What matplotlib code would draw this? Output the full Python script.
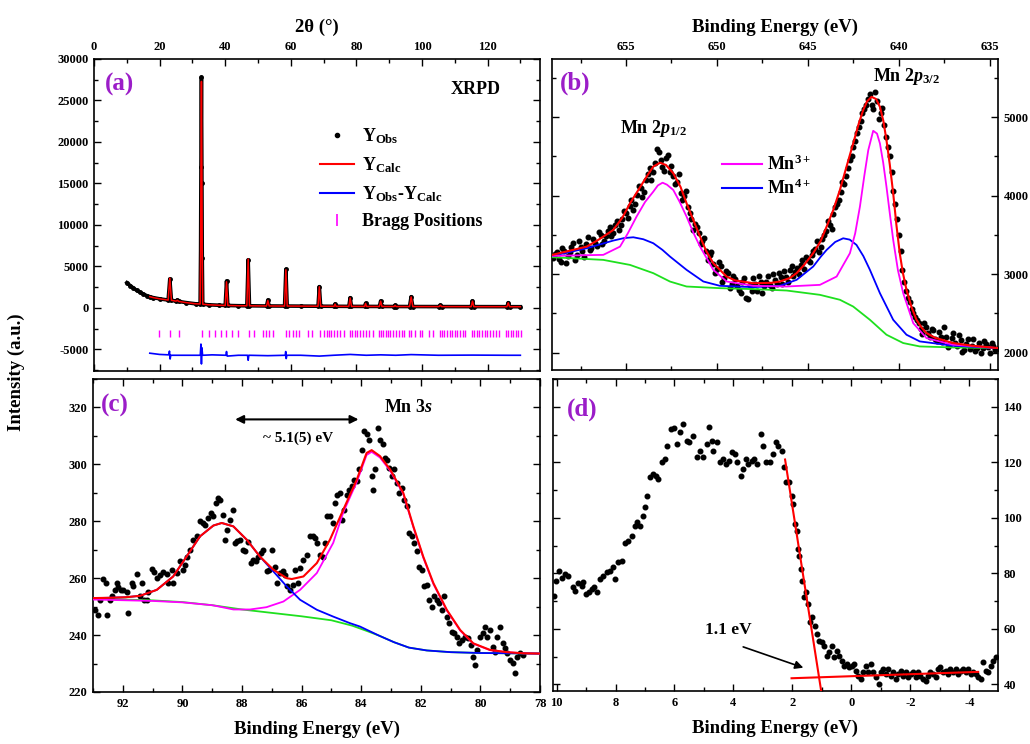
import matplotlib
matplotlib.use("Agg")
import matplotlib.pyplot as plt
from matplotlib.lines import Line2D
from matplotlib.ticker import MultipleLocator

plt.rcParams["font.family"] = ["Liberation Serif", "DejaVu Serif"]
plt.rcParams["font.weight"] = "bold"
plt.rcParams["axes.labelweight"] = "bold"
plt.rcParams["axes.unicode_minus"] = False
plt.rcParams["mathtext.fontset"] = "custom"
plt.rcParams["mathtext.rm"] = "Liberation Serif:bold"
plt.rcParams["mathtext.bf"] = "Liberation Serif:bold"
plt.rcParams["mathtext.it"] = "Liberation Serif:bold:italic"
plt.rcParams["axes.linewidth"] = 1.2

# -----------------------------------------
# (a) XRPD refinement
# -----------------------------------------
two_theta_obs = [10, 11, 12, 13, 14, 15, 16, 17, 18, 20, 22.6, 23.1, 23.6, 25.0, 25.4, 25.8,
                 28, 31, 32.35, 32.5, 32.6, 32.75, 32.9, 33.0, 33.15, 35, 38, 40.0, 40.4, 40.8,
                 44, 46.6, 47.0, 47.4, 52.6, 53.0, 53.4, 58.1, 58.5, 58.9, 63, 68.3, 68.7, 69.1,
                 73.2, 73.5, 73.8, 77.7, 78.1, 78.5, 82.5, 82.8, 83.1, 87.0, 87.4, 87.8, 91.5,
                 91.8, 92.1, 96.2, 96.7, 97.2, 105.2, 105.6, 106.0, 115.0, 115.4, 115.8, 125.9,
                 126.3, 126.7, 130]
counts_obs = [3050, 2700, 2400, 2120, 1900, 1680, 1500, 1360, 1250, 1100, 950, 3500, 930, 820, 950,
              790, 650, 500, 480, 7000, 17000, 27800, 15000, 6000, 450, 380, 330, 300, 3250, 300,
              270, 260, 5800, 260, 240, 950, 240, 230, 4650, 230, 220, 210, 2570, 210, 200, 480,
              200, 190, 1240, 190, 185, 560, 185, 180, 840, 180, 175, 320, 175, 170, 1360, 170,
              165, 330, 165, 160, 840, 160, 155, 640, 155, 150]

two_theta_calc = [17, 18, 20, 22.6, 23.1, 23.6, 25.0, 25.4, 25.8, 28, 31, 32.35, 32.5, 32.6, 32.75,
                  32.9, 33.0, 33.15, 35, 38, 40.0, 40.4, 40.8, 44, 46.6, 47.0, 47.4, 52.6, 53.0,
                  53.4, 58.1, 58.5, 58.9, 63, 68.3, 68.7, 69.1, 73.2, 73.5, 73.8, 77.7, 78.1, 78.5,
                  82.5, 82.8, 83.1, 87.0, 87.4, 87.8, 91.5, 91.8, 92.1, 96.2, 96.7, 97.2, 105.2,
                  105.6, 106.0, 115.0, 115.4, 115.8, 125.9, 126.3, 126.7, 130]
counts_calc = [1360, 1250, 1100, 950, 3600, 930, 820, 930, 790, 650, 500, 480, 7000, 17000, 27300,
               15000, 6000, 450, 380, 330, 300, 3150, 300, 270, 260, 5900, 260, 240, 900, 240, 230,
               4600, 230, 220, 210, 2550, 210, 200, 460, 200, 190, 1200, 190, 185, 540, 185, 180,
               820, 180, 175, 310, 175, 170, 1330, 170, 165, 320, 165, 160, 820, 160, 155, 620,
               155, 150]

two_theta_diff = [17, 20, 22.8, 23.0, 23.2, 23.4, 28, 32.4, 32.6, 32.75, 32.9, 33.1, 36, 40.2,
                  40.4, 40.6, 44, 46.8, 47.0, 47.2, 53.0, 58.3, 58.45, 58.6, 58.8, 63, 68.7, 73,
                  78.1, 83, 87.4, 92, 96.7, 105, 115.4, 126.3, 130]
diff_vals = [-5450, -5600, -5650, -5200, -6150, -5700, -5700, -5700, -4350, -6750, -4800, -5700,
             -5650, -5700, -5250, -5800, -5700, -5700, -6300, -5700, -5750, -5700, -5250, -6100,
             -5700, -5700, -5800, -5700, -5600, -5700, -5650, -5700, -5620, -5700, -5680, -5700,
             -5700]

bragg_pos = [19.9, 23.1, 26.0, 32.8, 35.0, 36.9, 38.6, 40.3, 42.1, 43.9, 47.2, 48.7, 51.4, 52.4,
             53.4, 54.5, 58.6, 59.6, 60.6, 61.5, 62.5, 65.2, 66.4, 69.0, 70.2, 70.9, 71.6, 72.4,
             73.2, 74.0, 74.9, 76.1, 78.1, 78.8, 79.5, 80.3, 81.0, 81.9, 82.8, 83.8, 85.2, 86.9,
             87.6, 88.2, 88.9, 89.6, 90.4, 91.2, 92.0, 92.9, 93.8, 94.6, 96.0, 96.7, 98.0, 99.3,
             100.0, 102.0, 103.3, 105.4, 106.1, 106.8, 107.6, 108.4, 109.2, 110.0, 110.8, 111.6,
             112.4, 113.1, 115.2, 116.0, 116.7, 117.5, 118.3, 119.1, 119.9, 120.7, 121.7, 122.5,
             123.5, 125.5, 126.3, 127.0, 127.8, 128.6, 129.4, 130.1]

# -----------------------------------------
# (b) Mn 2p XPS
# -----------------------------------------
b_obs_be = [659.0, 658.8, 658.6, 658.4, 658.2, 658.0, 657.8, 657.6, 657.4, 657.2, 657.0, 656.8,
            656.6, 656.4, 656.2, 656.0, 655.8, 655.6, 655.4, 655.2, 655.0, 654.8, 654.6, 654.4,
            654.2, 654.0, 653.8, 653.6, 653.4, 653.2, 653.0, 652.8, 652.6, 652.4, 652.2, 652.0,
            651.8, 651.6, 651.4, 651.2, 651.0, 650.8, 650.6, 650.4, 650.2, 650.0, 649.8, 649.6,
            649.4, 649.2, 649.0, 648.8, 648.6, 648.4, 648.2, 648.0, 647.8, 647.6, 647.4, 647.2,
            647.0, 646.8, 646.6, 646.4, 646.2, 646.0, 645.8, 645.6, 645.4, 645.2, 645.0, 644.8,
            644.6, 644.4, 644.2, 644.0, 643.8, 643.6, 643.4, 643.2, 643.0, 642.8, 642.6, 642.4,
            642.2, 642.0, 641.8, 641.6, 641.4, 641.2, 641.0, 640.8, 640.6, 640.4, 640.2, 640.0,
            639.8, 639.6, 639.4, 639.2, 639.0, 638.8, 638.6, 638.4, 638.2, 638.0, 637.8, 637.6,
            637.4, 637.2, 637.0, 636.8, 636.6, 636.4, 636.2, 636.0, 635.8, 635.6, 635.4, 635.2,
            635.0, 634.8, 634.6]
b_obs = [3210, 3280, 3150, 3300, 3230, 3350, 3180, 3420, 3290, 3380, 3310, 3450, 3360, 3500,
         3420, 3550, 3480, 3620, 3560, 3700, 3780, 3870, 3820, 4010, 4100, 4050, 4280, 4200, 4420,
         4560, 4370, 4480, 4300, 4250, 4180, 4030, 3990, 3850, 3700, 3640, 3520, 3420, 3300, 3250,
         3130, 3060, 3100, 2950, 3010, 2880, 2940, 2800, 2900, 2700, 2860, 2950, 2780, 2900, 2850,
         2980, 2820, 2930, 3020, 2880, 2960, 3050, 2980, 3080, 3120, 3060, 3180, 3250, 3320, 3280,
         3450, 3550, 3620, 3760, 3900, 4050, 4150, 4350, 4500, 4700, 4880, 5050, 5150, 5300, 5100,
         5200, 5050, 4900, 4620, 4300, 3900, 3500, 3050, 2780, 2650, 2500, 2420, 2300, 2380, 2250,
         2300, 2180, 2260, 2140, 2200, 2110, 2250, 2090, 2160, 2040, 2180, 2080, 2020, 2130, 2060,
         2110, 2000, 2080, 2050]
b_obs_be2 = [658.9, 658.7, 658.5, 658.3, 658.1, 657.9, 657.7, 657.5, 657.3, 657.1, 656.9, 656.7,
             656.5, 656.3, 656.1, 655.9, 655.7, 655.5, 655.3, 655.1, 654.9, 654.7, 654.5, 654.3,
             654.1, 653.9, 653.7, 653.5, 653.3, 653.1, 652.9, 652.7, 652.5, 652.3, 652.1, 651.9,
             651.7, 651.5, 651.3, 651.1, 650.9, 650.7, 650.5, 650.3, 650.1, 649.9, 649.7, 649.5,
             649.3, 649.1, 648.9, 648.7, 648.5, 648.3, 648.1, 647.9, 647.7, 647.5, 647.3, 647.1,
             646.9, 646.7, 646.5, 646.3, 646.1, 645.9, 645.7, 645.5, 645.3, 645.1, 644.9, 644.7,
             644.5, 644.3, 644.1, 643.9, 643.7, 643.5, 643.3, 643.1, 642.9, 642.7, 642.5, 642.3,
             642.1, 641.9, 641.7, 641.5, 641.3, 641.1, 640.9, 640.7, 640.5, 640.3, 640.1, 639.9,
             639.7, 639.5, 639.3, 639.1, 638.9, 638.7, 638.5, 638.3, 638.1, 637.9, 637.7, 637.5,
             637.3, 637.1, 636.9, 636.7, 636.5, 636.3, 636.1, 635.9, 635.7, 635.5, 635.3, 635.1,
             634.9, 634.7]
b_obs2 = [3260, 3190, 3330, 3140, 3280, 3400, 3250, 3350, 3220, 3470, 3330, 3400, 3540, 3380,
          3480, 3600, 3520, 3680, 3620, 3800, 3720, 3950, 3900, 4120, 3980, 4200, 4350, 4300, 4600,
          4450, 4320, 4520, 4380, 4150, 4280, 3950, 4060, 3780, 3560, 3600, 3380, 3460, 3180, 3280,
          3010, 3150, 2900, 3040, 2820, 2980, 2850, 2760, 2950, 2680, 2790, 2880, 2980, 2760, 2900,
          2860, 3000, 2870, 2960, 3040, 2900, 3100, 3030, 3000, 3180, 3220, 3150, 3300, 3420, 3350,
          3500, 3680, 3580, 3850, 3950, 4180, 4250, 4450, 4620, 4800, 4950, 5100, 5230, 5150, 5320,
          4980, 5120, 4750, 4500, 4060, 3700, 3300, 2900, 2700, 2560, 2450, 2380, 2240, 2330, 2200,
          2290, 2150, 2200, 2330, 2070, 2190, 2120, 2230, 2010, 2110, 2050, 2170, 2060, 1990, 2150,
          2070, 2120, 2030]

b_fit_be = [659.05, 657.16, 656.5, 655.7, 655.2, 654.78, 654.3, 653.87, 653.5, 653.13, 652.8,
            652.4, 652.0, 651.67, 651.3, 650.93, 650.6, 650.2, 649.47, 649.0, 648.0, 647.0, 646.54,
            646.0, 645.62, 645.2, 644.71, 644.3, 643.97, 643.6, 643.24, 642.9, 642.51, 642.2,
            641.96, 641.75, 641.5, 641.25, 641.04, 640.85, 640.68, 640.5, 640.31, 640.13, 639.95,
            639.78, 639.58, 639.3, 639.03, 638.75, 638.48, 638.0, 637.02, 636.0, 634.54]
b_fit = [3246, 3351, 3440, 3563, 3720, 3902, 4080, 4241, 4370, 4419, 4390, 4284, 4110, 3902, 3690,
         3479, 3300, 3140, 2970, 2920, 2885, 2890, 2907, 2950, 3013, 3120, 3267, 3420, 3606, 3820,
         4072, 4350, 4665, 4920, 5089, 5200, 5258, 5230, 5131, 4950, 4707, 4400, 4029, 3620, 3267,
         3020, 2801, 2580, 2419, 2320, 2250, 2190, 2123, 2090, 2059]

b_mn3_be = [659.05, 656.25, 655.33, 654.9, 654.42, 653.95, 653.5, 653.25, 652.99, 652.75, 652.4,
            652.05, 651.67, 651.3, 650.93, 650.2, 649.47, 648.0, 646.17, 644.34, 643.42, 642.69,
            642.4, 642.14, 641.9, 641.68, 641.41, 641.2, 641.04, 640.86, 640.68, 640.5, 640.31,
            640.05, 639.76, 639.21, 638.48, 637.02, 634.54]
b_mn3 = [3233, 3246, 3351, 3520, 3733, 3920, 4051, 4130, 4165, 4140, 4072, 3920, 3733, 3530, 3351,
         3055, 2907, 2852, 2843, 2864, 2970, 3267, 3520, 3860, 4250, 4580, 4826, 4790, 4665, 4420,
         4114, 3780, 3436, 3050, 2758, 2377, 2186, 2102, 2059]

b_mn4_be = [659.05, 657.16, 655.70, 655.1, 654.6, 654.05, 653.5, 653.0, 652.58, 651.67, 650.75,
            649.84, 648.0, 646.54, 645.62, 644.71, 644.3, 643.97, 643.5, 643.06, 642.7, 642.33,
            641.95, 641.59, 641.04, 640.31, 639.58, 638.85, 637.02, 634.54]
b_mn4 = [3233, 3330, 3428, 3460, 3470, 3445, 3394, 3310, 3224, 3055, 2907, 2852, 2835, 2852, 2928,
         3097, 3220, 3309, 3410, 3457, 3440, 3373, 3230, 3055, 2758, 2419, 2229, 2144, 2089, 2059]

b_bg_be = [659.05, 656.25, 654.78, 653.5, 652.58, 651.67, 649.84, 648.0, 646.17, 644.34, 643.24,
           642.51, 641.59, 640.68, 639.76, 638.85, 637.02, 634.55]
b_bg = [3216, 3182, 3118, 3013, 2906, 2843, 2822, 2810, 2792, 2737, 2674, 2588, 2419, 2229, 2123,
        2080, 2067, 2060]

# -----------------------------------------
# (c) Mn 3s XPS
# -----------------------------------------
c_obs_be = [92.93, 92.82, 92.76, 92.65, 92.56, 92.52, 92.43, 92.37, 92.26, 92.21, 92.15, 92.07,
            91.98, 91.87, 91.82, 91.70, 91.65, 91.54, 91.42, 91.37, 91.29, 91.20, 91.14, 91.03,
            90.95, 90.86, 90.75, 90.64, 90.53, 90.47, 90.36, 90.30, 90.19, 90.08, 89.99, 89.91,
            89.83, 89.75, 89.63, 89.52, 89.41, 89.32, 89.24, 89.13, 89.05, 88.96, 88.87, 88.79,
            88.74, 88.65, 88.57, 88.49, 88.40, 88.31, 88.24, 88.16, 88.07, 87.98, 87.90, 87.79,
            87.71, 87.62, 87.53, 87.45, 87.37, 87.28, 87.17, 87.08, 87.00, 86.89, 86.81, 86.72,
            86.64, 86.56, 86.48, 86.39, 86.30, 86.22, 86.13, 86.05, 85.94, 85.83, 85.72, 85.63,
            85.55, 85.47, 85.38, 85.29, 85.21, 85.14, 85.05, 84.96, 84.88, 84.80, 84.71, 84.66,
            84.58, 84.49, 84.40, 84.32, 84.24, 84.15, 84.06, 83.98, 83.91, 83.82, 83.73, 83.65,
            83.59, 83.54, 83.45, 83.37, 83.28, 83.20, 83.15, 83.06, 82.98, 82.90, 82.81, 82.72,
            82.64, 82.56, 82.47, 82.38, 82.31, 82.23, 82.14, 82.05, 81.97, 81.89, 81.80, 81.71,
            81.64, 81.56, 81.47, 81.38, 81.30, 81.22, 81.13, 81.04, 80.96, 80.89, 80.80, 80.71,
            80.63, 80.52, 80.41, 80.33, 80.24, 80.18, 80.10, 80.01, 79.92, 79.85, 79.77, 79.68,
            79.59, 79.51, 79.43, 79.34, 79.25, 79.17, 79.10, 79.01, 78.92, 78.84, 78.76, 78.67,
            78.58]
c_obs = [248.9, 247.1, 252.4, 259.7, 258.3, 247.1, 252.4, 253.6, 255.7, 258.3, 256.9, 255.9,
         255.7, 255.3, 247.7, 258.3, 257.1, 261.6, 253.6, 258.3, 252.2, 252.4, 255.3, 263.2,
         262.0, 260.0, 261.2, 262.0, 261.6, 258.3, 263.0, 258.3, 261.8, 265.9, 263.0, 264.7,
         267.6, 270.0, 273.5, 274.9, 280.0, 279.4, 278.8, 281.2, 282.9, 281.7, 286.4, 288.2,
         287.6, 282.3, 273.5, 277.0, 280.6, 284.1, 272.3, 272.9, 273.5, 270.0, 269.4, 272.6,
         265.3, 266.5, 265.9, 267.6, 268.8, 270.0, 262.4, 263.0, 270.0, 264.1, 258.3, 261.8,
         262.4, 261.2, 257.1, 255.9, 257.7, 263.0, 258.3, 263.5, 266.5, 268.3, 274.7, 274.7,
         274.1, 272.3, 268.3, 267.6, 272.3, 281.7, 281.7, 279.4, 286.4, 289.4, 290.0, 280.6,
         284.1, 289.4, 291.1, 292.3, 294.6, 294.1, 298.2, 305.2, 311.7, 310.5, 308.7, 295.8,
         291.1, 298.2, 312.8, 308.7, 307.0, 302.3, 301.7, 298.8, 295.8, 298.2, 293.5, 290.0,
         291.7, 287.6, 285.3, 275.9, 274.7, 272.3, 269.4, 264.1, 263.0, 257.1, 257.7, 252.4,
         250.0, 253.6, 252.4, 251.2, 248.9, 253.6, 246.5, 244.2, 241.2, 240.6, 239.5, 237.1,
         238.3, 239.5, 238.9, 236.5, 232.4, 229.5, 234.8, 239.5, 240.6, 243.0, 239.5, 241.8,
         235.9, 234.2, 239.5, 243.0, 237.1, 235.4, 233.6, 231.3, 230.1, 226.6, 232.4, 233.6,
         233.0]

c_fit_be = [93.0, 92.5, 91.9, 91.42, 90.86, 90.31, 89.86, 89.41, 88.96, 88.68, 88.29, 87.84, 87.40,
            86.95, 86.50, 86.33, 85.94, 85.49, 85.05, 84.60, 84.15, 83.82, 83.65, 83.37, 83.03,
            82.59, 82.25, 81.92, 81.58, 81.13, 80.68, 80.24, 79.68, 79.12, 78.56, 78.0]
c_fit = [253.0, 253.1, 253.3, 253.8, 255.9, 260.6, 267.6, 274.7, 278.5, 279.4, 278.2, 273.5, 267.6,
         263.0, 260.0, 259.7, 260.6, 265.3, 273.5, 284.1, 294.6, 304.0, 305.0, 302.9, 298.2, 290.0,
         278.2, 267.6, 258.3, 248.9, 241.8, 237.1, 234.8, 234.0, 233.6, 233.5]

c_p1_be = [93.0, 92.5, 91.9, 91.42, 90.86, 90.31, 89.86, 89.41, 88.96, 88.68, 88.29, 87.84, 87.40,
           86.95, 86.50, 86.05, 85.49, 84.94, 84.38, 84.04, 83.4, 82.9, 82.4, 81.8, 81.0, 80.0, 78.0]
c_p1 = [253.0, 253.1, 253.3, 253.8, 255.9, 260.6, 267.6, 274.7, 278.5, 279.4, 278.2, 273.5, 267.6,
        262.4, 257.1, 252.4, 248.9, 246.5, 244.2, 243.0, 239.8, 237.5, 235.6, 234.6, 234.0, 233.7,
        233.5]

c_p2_be = [93.0, 91.0, 90.0, 89.0, 88.85, 88.29, 87.73, 87.18, 86.61, 86.05, 85.49, 84.94, 84.60,
           84.15, 83.82, 83.65, 83.37, 83.03, 82.59, 82.25, 81.92, 81.58, 81.13, 80.68, 80.24, 79.68,
           79.12, 78.56, 78.0]
c_p2 = [252.5, 252.0, 251.5, 250.5, 250.2, 249.0, 249.0, 249.8, 251.8, 255.9, 261.8, 272.4, 283.2,
        293.8, 303.3, 304.4, 302.4, 297.8, 289.7, 277.9, 267.3, 258.0, 248.7, 241.6, 237.0, 234.7,
        234.0, 233.6, 233.5]

c_bg_be = [93.0, 91.0, 90.0, 89.0, 88.0, 87.0, 86.0, 85.0, 84.3, 83.8, 83.4, 82.9, 82.4, 81.8, 81.0,
           80.0, 78.0]
c_bg = [252.8, 252.2, 251.6, 250.5, 249.0, 247.8, 246.6, 245.2, 243.3, 241.4, 239.8, 237.5, 235.6,
        234.6, 234.0, 233.7, 233.5]

# -----------------------------------------
# (d) valence band
# -----------------------------------------
d_obs_be = [10.08, 10.02, 9.90, 9.82, 9.71, 9.60, 9.45, 9.37, 9.26, 9.15, 9.09, 9.00, 8.89, 8.81,
            8.72, 8.64, 8.52, 8.41, 8.30, 8.19, 8.10, 8.02, 7.90, 7.79, 7.68, 7.56, 7.45, 7.34,
            7.26, 7.17, 7.08, 7.00, 6.92, 6.83, 6.74, 6.63, 6.55, 6.43, 6.32, 6.24, 6.13, 6.02,
            5.93, 5.81, 5.70, 5.59, 5.50, 5.38, 5.25, 5.14, 5.02, 4.91, 4.82, 4.74, 4.68, 4.57,
            4.46, 4.34, 4.25, 4.14, 4.06, 3.95, 3.87, 3.76, 3.67, 3.58, 3.50, 3.38, 3.31, 3.21,
            3.08, 2.99, 2.88, 2.76, 2.65, 2.56, 2.48, 2.37, 2.29, 2.22, 2.11, 2.03, 1.97, 1.92,
            1.86, 1.80, 1.77, 1.72, 1.67, 1.61, 1.54, 1.46, 1.41, 1.32, 1.24, 1.18, 1.09, 1.01,
            0.92, 0.84, 0.75, 0.67, 0.59, 0.50, 0.41, 0.33, 0.25, 0.16, 0.07, -0.01, -0.08, -0.15,
            -0.23, -0.31, -0.40, -0.49, -0.57, -0.65, -0.74, -0.83, -0.92, -1.00, -1.08, -1.17,
            -1.25, -1.33, -1.42, -1.51, -1.59, -1.67, -1.76, -1.85, -1.93, -2.01, -2.10, -2.19,
            -2.27, -2.34, -2.44, -2.53, -2.60, -2.68, -2.77, -2.86, -2.94, -3.02, -3.11, -3.20,
            -3.28, -3.36, -3.45, -3.54, -3.62, -3.70, -3.79, -3.88, -3.96, -4.04, -4.13, -4.22,
            -4.30, -4.38, -4.47, -4.56, -4.64, -4.72, -4.81, -4.90]
d_obs = [71.9, 77.3, 81.0, 78.2, 79.7, 79.1, 74.9, 73.7, 76.5, 75.5, 77.0, 72.5, 73.1, 74.3, 74.9,
         73.4, 77.9, 79.1, 80.6, 81.0, 82.1, 77.9, 84.0, 84.6, 91.1, 91.7, 93.6, 97.1, 98.4, 97.1,
         100.8, 103.8, 108.0, 114.6, 115.8, 115.2, 114.0, 120.0, 121.2, 126.0, 132.0, 132.2, 126.6,
         130.8, 133.8, 127.8, 127.2, 129.6, 121.8, 124.2, 121.8, 126.6, 132.6, 127.8, 124.2, 127.2,
         120.0, 121.2, 119.4, 120.6, 123.6, 123.0, 120.0, 115.2, 117.6, 121.2, 119.4, 120.6, 121.2,
         119.4, 130.2, 126.0, 120.0, 120.0, 123.0, 127.2, 126.0, 124.2, 118.2, 112.8, 112.8, 108.0,
         105.0, 97.7, 95.4, 88.7, 86.4, 81.5, 77.3, 71.3, 73.1, 68.9, 62.3, 64.1, 61.1, 58.1, 55.7,
         55.1, 53.9, 50.3, 51.5, 53.9, 49.7, 52.1, 50.3, 48.5, 46.7, 47.3, 46.1, 46.7, 47.3, 44.9,
         43.1, 41.9, 44.3, 46.7, 44.3, 47.3, 44.3, 42.5, 40.1, 44.3, 45.5, 43.7, 45.5, 43.1, 44.3,
         41.9, 43.7, 44.9, 43.1, 44.3, 42.5, 43.7, 44.3, 42.5, 44.3, 43.1, 41.9, 41.3, 43.1, 44.3,
         43.7, 42.5, 45.5, 46.1, 44.3, 44.9, 43.7, 45.5, 44.3, 45.5, 43.7, 44.9, 45.5, 44.3, 45.5,
         43.7, 44.3, 43.7, 42.5, 41.9, 47.9, 44.9, 44.3, 46.7, 48.5, 49.7]

d_edge_be = [2.25, 1.00]
d_edge = [121.0, 35.9]
d_base_be = [2.03, -4.30]
d_base = [42.2, 44.5]

PURPLE = "#9B1DC8"
GREEN = "#1EE01E"


def style(ax, xmaj, xmin, ymaj, ymin):
    ax.xaxis.set_major_locator(MultipleLocator(xmaj))
    ax.xaxis.set_minor_locator(MultipleLocator(xmin))
    ax.yaxis.set_major_locator(MultipleLocator(ymaj))
    ax.yaxis.set_minor_locator(MultipleLocator(ymin))
    ax.tick_params(which="both", direction="in", top=True, bottom=True,
                   left=True, right=True, width=1.0)
    ax.tick_params(which="major", length=5, labelsize=9, pad=4)
    ax.tick_params(which="minor", length=3)


fig = plt.figure(figsize=(10.3, 7.44), dpi=100)
ax_a = fig.add_axes([0.0913, 0.5013, 0.4330, 0.4194])
ax_b = fig.add_axes([0.5359, 0.5027, 0.4330, 0.4180])
ax_c = fig.add_axes([0.0903, 0.0699, 0.4340, 0.4207])
ax_d = fig.add_axes([0.5369, 0.0712, 0.4320, 0.4194])

# ---- (a)
ax = ax_a
ax.plot(two_theta_obs, counts_obs, color="black", lw=2.6, zorder=2)
ax.plot(two_theta_obs, counts_obs, "o", color="black", ms=2.5, zorder=2)
ax.plot(two_theta_calc, counts_calc, color="red", lw=1.1, zorder=3)
ax.plot(two_theta_diff, diff_vals, color="blue", lw=1.2, zorder=3)
ax.vlines(bragg_pos, -3450, -2600, color="magenta", lw=1.0)
ax.set_xlim(0, 136)
ax.set_ylim(-7600, 30000)
style(ax, 20, 10, 5000, 2500)
ax.tick_params(labeltop=True, labelbottom=False)
ax.xaxis.set_label_position("top")
ax.set_xlabel("2θ (°)", fontsize=13.5, labelpad=7)
handles = [Line2D([], [], marker="o", ls="none", color="black", ms=3),
           Line2D([], [], color="red", lw=1.5),
           Line2D([], [], color="blue", lw=1.5),
           Line2D([], [], marker="|", ls="none", color="magenta", ms=9, mew=1.2)]
labels = ["Y$_{\\rm Obs}$", "Y$_{\\rm Calc}$", "Y$_{\\rm Obs}$-Y$_{\\rm Calc}$", "Bragg Positions"]
ax.legend(handles, labels, loc="upper left", bbox_to_anchor=(0.47, 0.835), frameon=False,
          fontsize=13, handlelength=1.9, handletextpad=0.45, labelspacing=0.5)
ax.text(0.058, 0.917, "(a)", transform=ax.transAxes, color=PURPLE, fontsize=18,
        ha="center", va="center")
ax.text(0.855, 0.903, "XRPD", transform=ax.transAxes, fontsize=13,
        ha="center", va="center")

# ---- (b)
ax = ax_b
ax.plot(b_obs_be + b_obs_be2, b_obs + b_obs2, "o", color="black", ms=3.3, zorder=2)
ax.plot(b_bg_be, b_bg, color=GREEN, lw=1.3, zorder=3)
ax.plot(b_mn4_be, b_mn4, color="blue", lw=1.3, zorder=3)
ax.plot(b_mn3_be, b_mn3, color="magenta", lw=1.3, zorder=3)
ax.plot(b_fit_be, b_fit, color="red", lw=1.5, zorder=4)
ax.set_xlim(659.07, 634.55)
ax.set_ylim(1780, 5740)
style(ax, 5, 2.5, 1000, 500)
ax.tick_params(labeltop=True, labelbottom=False, labelleft=False, labelright=True)
ax.xaxis.set_label_position("top")
ax.set_xlabel("Binding Energy (eV)", fontsize=13.5, labelpad=7)
handles = [Line2D([], [], color="magenta", lw=1.5), Line2D([], [], color="blue", lw=1.5)]
ax.legend(handles, ["Mn$^{3+}$", "Mn$^{4+}$"], loc="upper left", bbox_to_anchor=(0.345, 0.745),
          frameon=False, fontsize=13, handlelength=2.2, handletextpad=0.3, labelspacing=0.25)
ax.text(0.052, 0.923, "(b)", transform=ax.transAxes, color=PURPLE, fontsize=18,
        ha="center", va="center")
ax.text(0.227, 0.777, "Mn 2$\\mathit{p}_{\\mathit{1/2}}$", transform=ax.transAxes, fontsize=13,
        ha="center", va="center")
ax.text(0.795, 0.943, "Mn 2$\\mathit{p}_{\\mathit{3/2}}$", transform=ax.transAxes, fontsize=13,
        ha="center", va="center")

# ---- (c)
ax = ax_c
ax.plot(c_obs_be, c_obs, "o", color="black", ms=3.3, zorder=2)
ax.plot(c_bg_be, c_bg, color=GREEN, lw=1.3, zorder=3)
ax.plot(c_p2_be, c_p2, color="magenta", lw=1.3, zorder=3)
ax.plot(c_p1_be, c_p1, color="blue", lw=1.3, zorder=3)
ax.plot(c_fit_be, c_fit, color="red", lw=1.5, zorder=4)
ax.set_xlim(93, 78)
ax.set_ylim(220, 330)
style(ax, 2, 1, 20, 10)
ax.set_xlabel("Binding Energy (eV)", fontsize=13.5, labelpad=8)
ax.annotate("", xy=(84.09, 315.8), xytext=(88.23, 315.8),
            arrowprops=dict(arrowstyle="<|-|>", color="black", lw=1.5,
                            mutation_scale=12, shrinkA=0, shrinkB=0))
ax.text(0.459, 0.811, "~ 5.1(5) eV", transform=ax.transAxes, fontsize=11,
        ha="center", va="center")
ax.text(0.705, 0.910, "Mn 3$\\mathit{s}$", transform=ax.transAxes, fontsize=13,
        ha="center", va="center")
ax.text(0.049, 0.917, "(c)", transform=ax.transAxes, color=PURPLE, fontsize=18,
        ha="center", va="center")

# ---- (d)
ax = ax_d
ax.plot(d_obs_be, d_obs, "o", color="black", ms=3.3, zorder=2)
ax.plot(d_edge_be, d_edge, color="red", lw=1.5, zorder=3)
ax.plot(d_base_be, d_base, color="red", lw=1.5, zorder=3)
ax.set_xlim(10.12, -4.97)
ax.set_ylim(37.6, 150)
style(ax, 2, 1, 20, 10)
ax.tick_params(labelleft=False, labelright=True)
ax.set_xlabel("Binding Energy (eV)", fontsize=13.5, labelpad=8)
ax.annotate("", xy=(1.63, 46.0), xytext=(3.67, 53.5),
            arrowprops=dict(arrowstyle="-|>", color="black", lw=1.2, mutation_scale=12,
                            shrinkA=0, shrinkB=0))
ax.text(0.394, 0.196, "1.1 eV", transform=ax.transAxes, fontsize=12.5,
        ha="center", va="center")
ax.text(0.0645, 0.903, "(d)", transform=ax.transAxes, color=PURPLE, fontsize=18,
        ha="center", va="center")

fig.text(0.016, 0.5, "Intensity (a.u.)", rotation=90, fontsize=13.5,
         ha="center", va="center")

fig.savefig("out.png", dpi=100)
